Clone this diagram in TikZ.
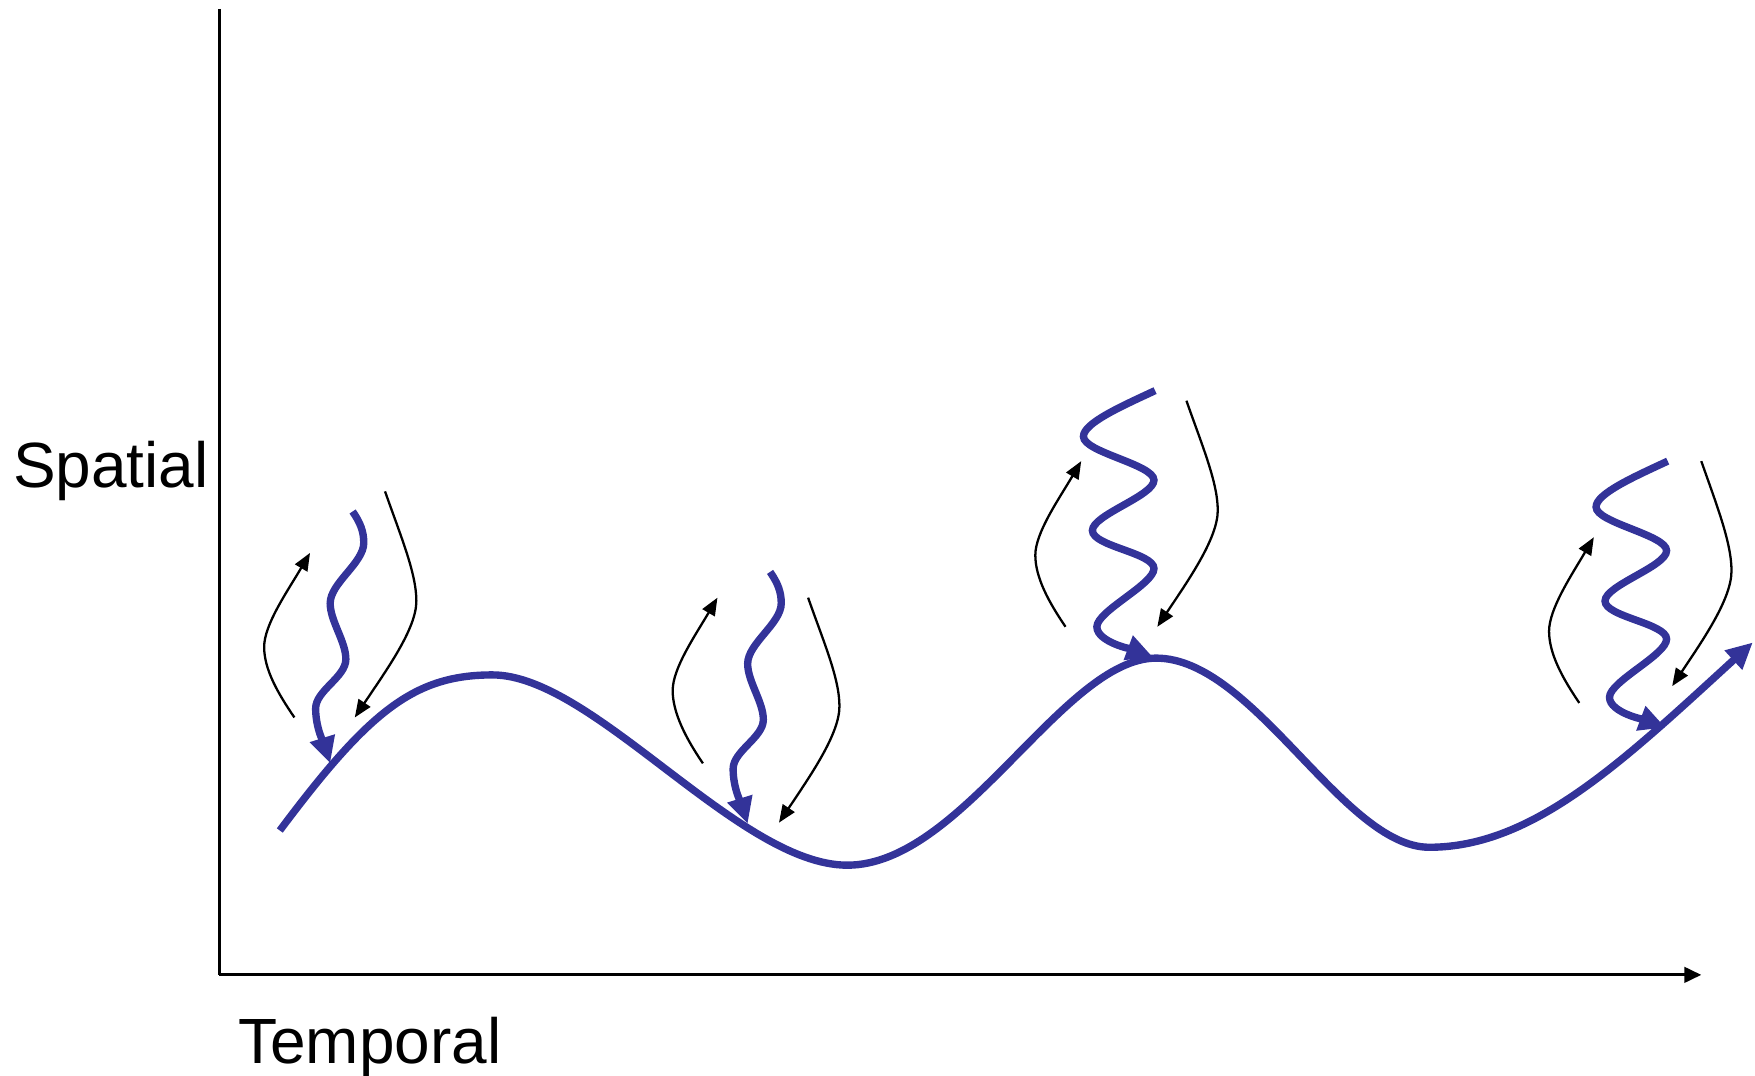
\documentclass[tikz,border=0pt]{standalone}
\usepackage{fontspec}
\setmainfont{Liberation Sans}
\usetikzlibrary{arrows.meta}
\definecolor{wave}{RGB}{51,51,153}
\begin{document}
\begin{tikzpicture}[x=0.011193cm,y=-0.011193cm,
  axis/.style={line width=0.8pt},
  thinarrow/.style={line width=0.65pt,-{Triangle[length=5pt,width=4pt]}},
  wavy/.style={wave,line width=2.1pt,-{Triangle[length=7.5pt,width=7pt]}},
  lbl/.style={anchor=base west,inner sep=0pt,font=\fontsize{18.2}{21}\selectfont}]
\useasboundingbox (0,0) rectangle (1568,961);
% axes
\coordinate (O) at (196,871);
\coordinate (Ytop) at (196,8);
\coordinate (Xend) at (1520,871);
\draw[axis] (Ytop) -- (O);
\draw[axis,-{Triangle[length=4.8pt,width=4.4pt]}] (O) -- (Xend);
\node[lbl] (spatial) at (11,436) {Spatial};
\node[lbl] (temporal) at (212.3,950) {Temporal};
% main trajectory
\coordinate (ms) at (250,742);
\coordinate (me) at (1566,574);
\draw[wavy] (ms) .. controls (330,635) and (370,603) .. (440,603)
  .. controls (530,603) and (660,773) .. (757,773)
  .. controls (860,773) and (950,588) .. (1033,588)
  .. controls (1120,588) and (1200,757) .. (1277,757)
  .. controls (1370,757) and (1450,680) .. (me);
% group 1
\coordinate (a1s) at (263,641); \coordinate (a1e) at (277,494);
\draw[thinarrow] (a1s) .. controls +(-15,-22) and +(0,20) .. (236,578) .. controls +(0,-20) and +(-20,34) .. (a1e);
\coordinate (b1s) at (344,439); \coordinate (b1e) at (317,641);
\draw[thinarrow] (b1s) .. controls +(14,40) and +(0,-25) .. (372,537) .. controls +(0,25) and +(28,-42) .. (b1e);
\coordinate (w1s) at (315,457); \coordinate (w1e) at (295,682);
\draw[wavy] (w1s) .. controls +(7,10) and +(0,-10) .. (325,485)
  .. controls +(0,18) and +(0,-18) .. (295,539)
  .. controls +(0,16) and +(0,-16) .. (309,589)
  .. controls +(0,16) and +(0,-16) .. (282,633)
  .. controls +(0,18) and +(-5,-16) .. (w1e);
% group 2
\coordinate (a2s) at (628,682); \coordinate (a2e) at (641,534);
\draw[thinarrow] (a2s) .. controls +(-15,-22) and +(0,20) .. (601,617) .. controls +(0,-20) and +(-20,34) .. (a2e);
\coordinate (b2s) at (722,534); \coordinate (b2e) at (696,735);
\draw[thinarrow] (b2s) .. controls +(14,40) and +(0,-25) .. (750,631) .. controls +(0,25) and +(28,-42) .. (b2e);
\coordinate (w2s) at (688,511); \coordinate (w2e) at (668,736);
\draw[wavy] (w2s) .. controls +(7,10) and +(0,-10) .. (698,539)
  .. controls +(0,18) and +(0,-18) .. (668,593)
  .. controls +(0,16) and +(0,-16) .. (682,643)
  .. controls +(0,16) and +(0,-16) .. (655,687)
  .. controls +(0,18) and +(-5,-16) .. (w2e);
% group 3
\coordinate (a3s) at (952,560); \coordinate (a3e) at (966,412);
\draw[thinarrow] (a3s) .. controls +(-15,-22) and +(0,20) .. (925,496) .. controls +(0,-20) and +(-20,34) .. (a3e);
\coordinate (b3s) at (1060,358); \coordinate (b3e) at (1034,560);
\draw[thinarrow] (b3s) .. controls +(14,40) and +(0,-25) .. (1088,456) .. controls +(0,25) and +(28,-42) .. (b3e);
\coordinate (w3s) at (1032,349); \coordinate (w3e) at (1030,587);
\draw[wavy] (w3s) .. controls +(-30,14) and +(0,-12) .. (968,390)
  .. controls +(0,14) and +(0,-14) .. (1031,429)
  .. controls +(0,14) and +(0,-14) .. (976,474)
  .. controls +(0,14) and +(0,-14) .. (1031,508)
  .. controls +(0,14) and +(0,-14) .. (980,560)
  .. controls +(0,14) and +(-16,-6) .. (w3e);
% group 4
\coordinate (a4s) at (1411,628); \coordinate (a4e) at (1424,480);
\draw[thinarrow] (a4s) .. controls +(-15,-22) and +(0,20) .. (1384,564) .. controls +(0,-20) and +(-20,34) .. (a4e);
\coordinate (b4s) at (1520,412); \coordinate (b4e) at (1494,613);
\draw[thinarrow] (b4s) .. controls +(14,40) and +(0,-25) .. (1547,510) .. controls +(0,25) and +(28,-42) .. (b4e);
\coordinate (w4s) at (1490,412); \coordinate (w4e) at (1488,650);
\draw[wavy] (w4s) .. controls +(-30,14) and +(0,-12) .. (1426,453)
  .. controls +(0,14) and +(0,-14) .. (1489,492)
  .. controls +(0,14) and +(0,-14) .. (1434,537)
  .. controls +(0,14) and +(0,-14) .. (1489,571)
  .. controls +(0,14) and +(0,-14) .. (1438,623)
  .. controls +(0,14) and +(-16,-6) .. (w4e);
\end{tikzpicture}
\end{document}
